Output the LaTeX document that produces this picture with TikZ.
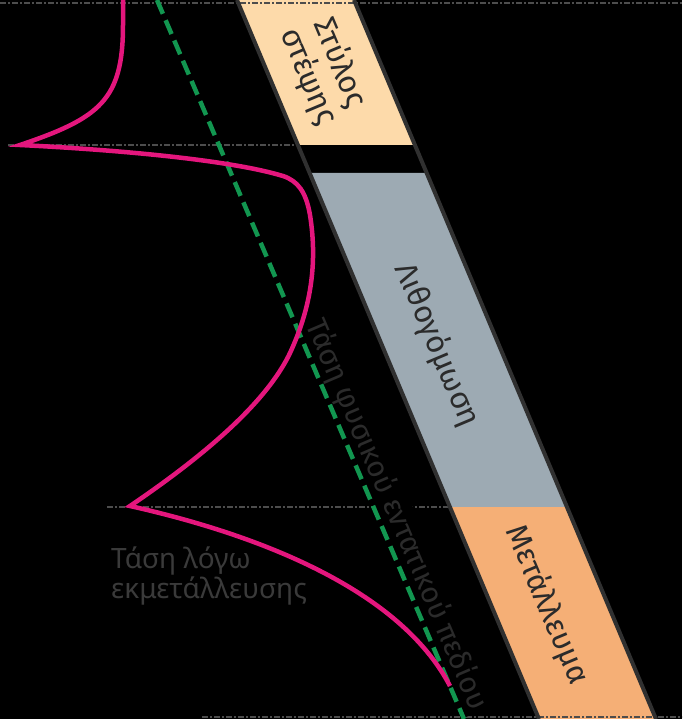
\documentclass[tikz,border=0pt]{standalone}
\usepackage{fontspec}
\setmainfont{Fira Sans}
\newfontfamily\stressfont{Noto Sans}
\usetikzlibrary{calc}
\definecolor{crown}{HTML}{FDDAAA}
\definecolor{rock}{HTML}{9DAAB3}
\definecolor{ore}{HTML}{F5AF76}
\definecolor{edge}{HTML}{303030}
\definecolor{level}{HTML}{4D4D4D}
\definecolor{natural}{HTML}{129650}
\definecolor{mining}{HTML}{E4167D}
\definecolor{labeltext}{HTML}{2B2B2B}
\definecolor{dimtext}{HTML}{3A3A3A}
\tikzset{
  bandlabel/.style={text=labeltext, rotate=-67.2, align=center,
    font=\fontsize{31}{34}\selectfont},
  levelline/.style={draw=level, line width=2pt,
    dash pattern=on 6pt off 2pt on 2pt off 2pt},
  bandedge/.style={draw=edge, line width=4pt},
  natline/.style={draw=natural, line width=4.5pt, dash pattern=on 15pt off 7pt},
  minecurve/.style={draw=mining, line width=4.5pt}
}

\begin{document}
\begin{tikzpicture}[x=1pt,y=-1pt]
  \clip (0,0) rectangle (682,719);
  \fill[black] (0,0) rectangle (682,719);
  % slanted column
  \foreach \ya/\yb/\col in {0/145/crown, 173/507/rock, 507/719/ore}
    \fill[\col] ({237+0.42*\ya},\ya) -- ({354+0.42*\ya},\ya)
      -- ({354+0.42*\yb},\yb) -- ({237+0.42*\yb},\yb) -- cycle;
  \foreach \xa/\xb/\y in {0/682/3, 8/298/145, 107/452/507, 202/682/717}
    \draw[levelline] (\xa,\y) -- (\xb,\y);
  \coordinate (lt) at (237,0);
  \coordinate (lb) at ({237+0.42*719},719);
  \coordinate (rt) at (354,0);
  \coordinate (rb) at ({354+0.42*719},719);
  \draw[bandedge] (lt) -- (lb);
  \draw[bandedge] (rt) -- (rb);
  \node[bandlabel] (crownlab) at (324,70) {Στύλος\\στέψης};
  \node[bandlabel] (rocklab) at (437,345) {Λιθογόμωση};
  \node[bandlabel] (orelab) at (547,605) {Μετάλλευμα};
  % stresses
  \node[text=dimtext, font=\stressfont\fontsize{28}{30}\selectfont, align=left,
    anchor=north west, inner sep=0pt] (minelab) at (111,547)
    {Τάση λόγω\\εκμετάλλευσης};
  \coordinate (nattop) at (157,0);
  \coordinate (natbot) at (464,719);
  \path (nattop) -- (natbot) node[pos=0.452, sloped, anchor=south west,
    inner sep=3pt, fill=black, text=labeltext, font=\fontsize{29.5}{31}\selectfont]
    (natlab) {Τάση φυσικού εντατικού πεδίου};
  \draw[natline] (nattop) -- (natbot);
  \draw[minecurve] (123,0) -- (123,25) .. controls (123,100) and (100,118) .. (20,145)
    .. controls (120,150) and (230,160) .. (283,176)
    .. controls (298,181) and (306,192) .. (310,215)
    .. controls (318,265) and (310,310) .. (290,353)
    .. controls (270,395) and (220,445) .. (130,506)
    .. controls (260,535) and (400,590) .. (450,686);
\end{tikzpicture}
\end{document}
